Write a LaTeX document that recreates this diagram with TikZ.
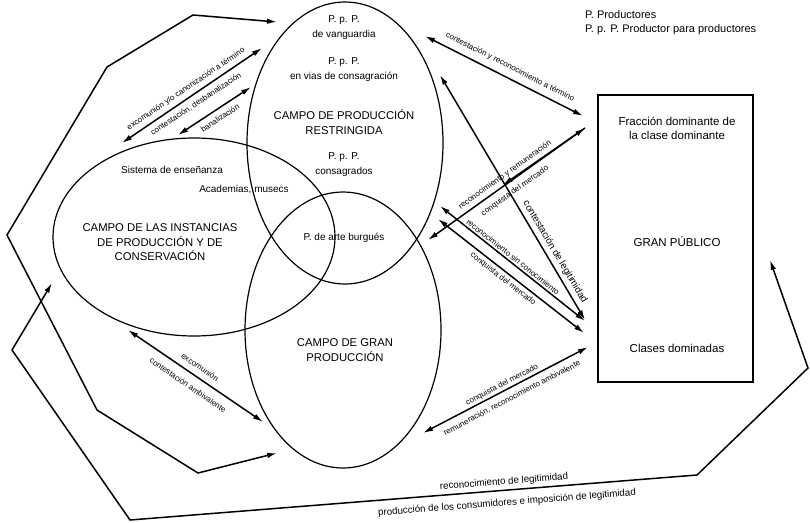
\documentclass[tikz,border=0pt]{standalone}
\usepackage{fontspec}
\setmainfont{Liberation Sans}
\usetikzlibrary{shapes.geometric,arrows.meta}
\begin{document}
\begin{tikzpicture}[x=1pt,y=-1pt,
  every node/.style={inner sep=0pt, outer sep=0pt},
  fld/.style={draw, ellipse, line width=1.2pt, inner sep=0pt},
  arr/.style={line width=1.5pt, {Latex[length=10pt,width=5.5pt]}-{Latex[length=10pt,width=5.5pt]}},
  rarr/.style={line width=1.5pt, -{Latex[length=10pt,width=5.5pt]}},
  lbl/.style={font=\fontsize{8}{9}\selectfont},
  blbl/.style={font=\fontsize{9.7}{11}\selectfont},
  txt/.style={font=\fontsize{10}{15}\selectfont, align=center},
  big/.style={font=\fontsize{11.3}{15}\selectfont, align=center},
  boxt/.style={font=\fontsize{11.5}{13.5}\selectfont, align=center},
]
\useasboundingbox (0,0) rectangle (810,522);

% fields
\node[fld, minimum width=196pt, minimum height=282pt] (restr) at (345,143) {};
\node[fld, minimum width=282pt, minimum height=198pt] (inst) at (194,237) {};
\node[fld, minimum width=196pt, minimum height=276pt] (gran) at (343,330) {};
\node[draw, line width=1.1pt, minimum width=155pt, minimum height=287pt] (pub) at (675.5,238.5) {};

% texts
\node[txt] (tvang) at (344,27.5) {P. p. P.\\de vanguardia};
\node[txt] (tvias) at (344,69.5) {P. p. P.\\en vias de consagración};
\node[big] (trestr) at (344,122.5) {CAMPO DE PRODUCCIÓN\\RESTRINGIDA};
\node[txt] (tcons) at (344,164.5) {P. p. P.\\consagrados};
\node[txt] (tsist) at (172,170) {Sistema de enseñanza};
\node[txt] (tacad) at (244,190) {Academias, musecs};
\node[big, font=\fontsize{11.3}{14.5}\selectfont] (tinst) at (160,242.5) {CAMPO DE LAS INSTANCIAS\\DE PRODUCCIÓN Y DE\\CONSERVACIÓN};
\node[txt] (tburg) at (344,238) {P. de arte burgués};
\node[big] (tgran) at (345,350.5) {CAMPO DE GRAN\\PRODUCCIÓN};
\node[boxt] (tfrac) at (677,128.5) {Fracción dominante de\\la clase dominante};
\node[boxt] (tgp) at (677,242) {GRAN PÚBLICO};
\node[boxt] (tclas) at (677,348) {Clases dominadas};
\node[anchor=west, font=\fontsize{11}{13}\selectfont] (leg1) at (585,15) {P. Productores};
\node[anchor=west, font=\fontsize{11}{13}\selectfont] (leg2) at (585,30) {P. p. P. Productor para productores};

% outer paths
\coordinate (o1a) at (277,22); \coordinate (o1b) at (193,15); \coordinate (o1c) at (107,67);
\coordinate (o1d) at (7,235); \coordinate (o1e) at (97,410); \coordinate (o1f) at (198,473);
\coordinate (o1g) at (277,453);
\draw[arr] (o1a) -- (o1b) -- (o1c) -- (o1d) -- (o1e) -- (o1f) -- (o1g);

\coordinate (o2a) at (52,283); \coordinate (o2b) at (12,350); \coordinate (o2c) at (130,520);
\coordinate (o2d) at (697,475); \coordinate (o2e) at (808,368); \coordinate (o2f) at (770,260);
\draw[arr] (o2a) -- (o2b) -- (o2c) -- (o2d) -- (o2e) -- (o2f);

% arrows
\coordinate (a1a) at (122,143); \coordinate (a1b) at (262,48);
\coordinate (a2a) at (178,135); \coordinate (a2b) at (251,87);
\coordinate (a3a) at (425,36);  \coordinate (a3b) at (583,116);
\coordinate (a4a) at (428,240); \coordinate (a4b) at (585,128); \coordinate (a4m) at (503,185);
\coordinate (a5a) at (440,75);  \coordinate (a5b) at (585,320);
\coordinate (a6a) at (440,206); \coordinate (a6b) at (585,321);
\coordinate (a7a) at (438,219); \coordinate (a7b) at (584,333);
\coordinate (a8a) at (423,433); \coordinate (a8b) at (588,347);
\coordinate (a9a) at (128,330); \coordinate (a9b) at (263,422);
\draw[arr] (a1a) -- (a1b);
\draw[arr] (a2a) -- (a2b);
\draw[arr] (a3a) -- (a3b);
\draw[arr] (a4a) -- (a4b);
\draw[rarr] (a4b) -- (a4m);
\draw[arr] (a5a) -- (a5b);
\draw[arr] (a6a) -- (a6b);
\draw[arr] (a7a) -- (a7b);
\draw[arr] (a8a) -- (a8b);
\draw[arr] (a9a) -- (a9b);

% labels
\node[lbl, rotate=34.2] (l1) at (186,89) {excomunión y/o canonización a término};
\node[lbl, rotate=33.5] (l2) at (196,104) {contestación, desbanalización};
\node[lbl, rotate=33.5] (l3) at (220,118) {banalización};
\node[lbl, rotate=-27] (l4) at (510,67) {contestación y reconocimiento a término};
\node[lbl, rotate=35.5] (l5) at (505,175) {reconocimiento y remuneración};
\node[lbl, rotate=35.5] (l6) at (515,191) {conquista del mercado};
\node[blbl, rotate=-59.4] (l7) at (555,252) {contestación de legitimidad};
\node[lbl, rotate=-38.4] (l8) at (513,257) {reconocimiento sin conocimiento};
\node[lbl, rotate=-38] (l9) at (503,279) {conquista del mercado};
\node[lbl, rotate=27.5] (l10) at (502,385) {conquista del mercado};
\node[lbl, rotate=27.5] (l11) at (512,398) {remuneración, reconocimiento ambivalente};
\node[lbl, rotate=-34.3] (l12) at (200,367) {excomunión};
\node[lbl, rotate=-34.3] (l13) at (188,385) {contestación ambivalente};
\node[blbl, rotate=4.5] (l14) at (504,482) {reconocimiento de legitimidad};
\node[blbl, rotate=4.5] (l15) at (507,503) {producción de los consumidores e imposición de legitimidad};
\end{tikzpicture}
\end{document}
